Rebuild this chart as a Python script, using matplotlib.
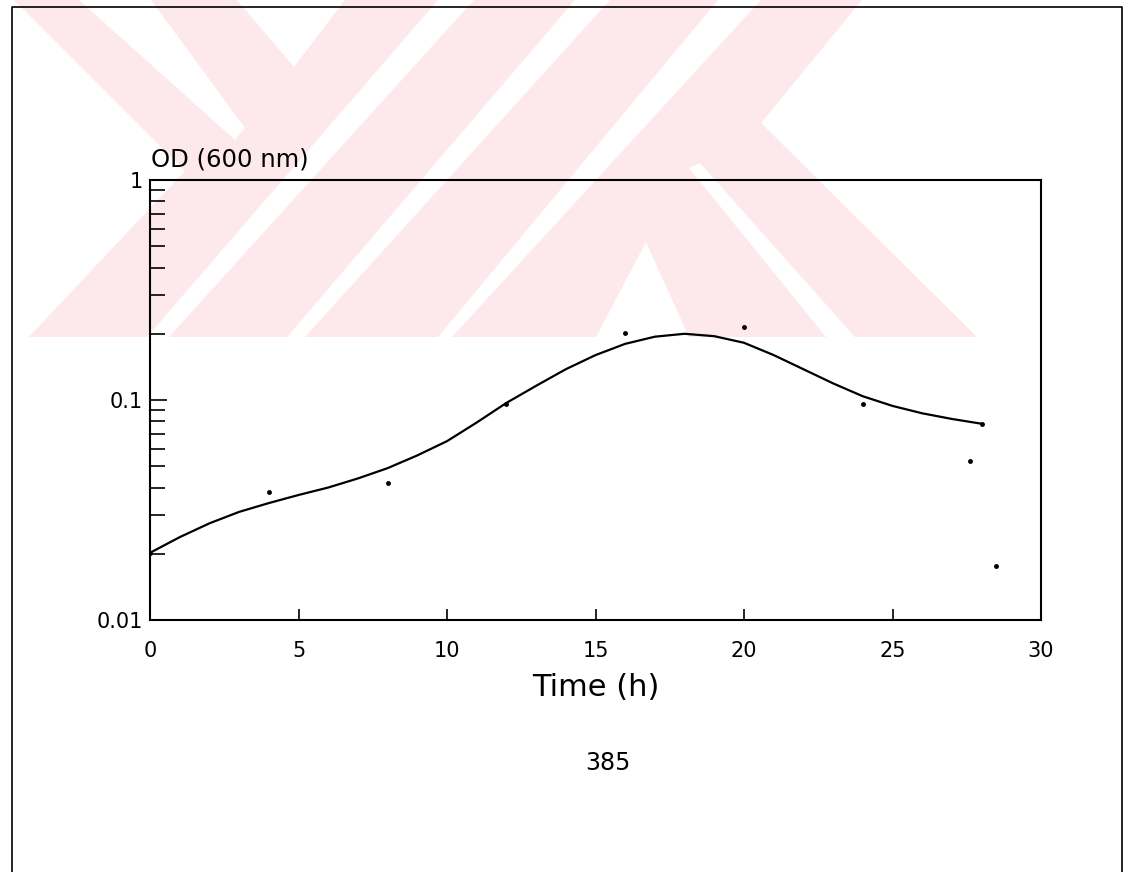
import numpy as np
import matplotlib
matplotlib.use('Agg')
import matplotlib.pyplot as plt
from matplotlib.patches import Polygon
from matplotlib.lines import Line2D
from matplotlib.ticker import FixedLocator, NullFormatter

# measured points (time in h, OD at 600 nm)
time_pts = [0, 4, 8, 12, 16, 20, 24, 28, 27.6, 28.5]
od_pts = [0.0202, 0.038, 0.042, 0.096, 0.202, 0.215, 0.096, 0.078, 0.053, 0.0176]

fit_time = list(range(29))
fit_od = [0.0202, 0.0238, 0.0275, 0.031, 0.034, 0.037, 0.040, 0.044, 0.049, 0.056,
          0.065, 0.079, 0.097, 0.116, 0.138, 0.160, 0.180, 0.194, 0.200, 0.195,
          0.182, 0.160, 0.138, 0.119, 0.104, 0.094, 0.087, 0.082, 0.078]

x_ticks = [0, 5, 10, 15, 20, 25, 30]
y_ticks = [0.01, 0.1, 1]
y_labels = ['0.01', '0.1', '1']

W, H = 1126, 872
fig = plt.figure(figsize=(W / 100, H / 100), dpi=100)
fig.patch.set_facecolor('white')


def px(x, y):
    return (x / W, 1 - y / H)


# background watermark (light pink stripes), drawn under everything
pink = '#fde8ec'
base = [(14, 0), (862, 0), (761, 123), (977, 337), (29, 337), (185, 171)]
fig.patches.append(Polygon([px(*p) for p in base], closed=True, transform=fig.transFigure,
                           facecolor=pink, edgecolor='none', zorder=-3))
cuts = [
    [(79, 0), (151, 0), (245, 128), (235, 140)],
    [(237, 0), (345, 0), (294, 67)],
    [(147, 337), (169, 337), (474, 0), (438, 0)],
    [(287, 337), (305, 337), (610, 0), (575, 0)],
    [(438, 337), (452, 337), (761, 0), (718, 0)],
    [(646, 242), (596, 337), (689, 337)],
    [(689, 168), (700, 163), (855, 337), (826, 337)],
]
for c in cuts:
    fig.patches.append(Polygon([px(*p) for p in c], closed=True, transform=fig.transFigure,
                               facecolor='white', edgecolor='none', zorder=-2))

# page frame
frame = [(12, 872), (12, 7), (1122, 7), (1122, 872)]
fx = [px(*p)[0] for p in frame]
fy = [px(*p)[1] for p in frame]
fig.lines.append(Line2D(fx, fy, transform=fig.transFigure, color='black', lw=1.2))

ax = fig.add_axes([150 / W, 1 - 620 / H, (1041 - 150) / W, (620 - 180) / H])
ax.set_facecolor('none')
ax.set_zorder(1)

ax.plot(fit_time, fit_od, color='black', lw=1.6)
ax.plot(time_pts, od_pts, 'o', color='black', ms=2.5)

ax.set_yscale('log')
ax.set_xlim(0, 30)
ax.set_ylim(0.01, 1)

ax.set_xticks(x_ticks)
ax.set_xticklabels([str(t) for t in x_ticks])
ax.yaxis.set_major_locator(FixedLocator(y_ticks))
ax.set_yticklabels(y_labels)
minor = [m * d for d in (0.01, 0.1) for m in range(2, 10)]
ax.yaxis.set_minor_locator(FixedLocator(minor))
ax.yaxis.set_minor_formatter(NullFormatter())

ax.tick_params(axis='both', which='both', direction='in', top=False, right=False,
               width=1.2, labelsize=15)
ax.tick_params(axis='y', which='major', length=12, pad=5)
ax.tick_params(axis='y', which='minor', length=11)
ax.tick_params(axis='x', which='major', length=8, pad=15)
for s in ax.spines.values():
    s.set_linewidth(1.5)

ax.set_xlabel('Time (h)', fontsize=22, labelpad=9)
fig.text(151 / W, 1 - 167 / H, 'OD (600 nm)', fontsize=17.5, ha='left', va='baseline')
fig.text(608 / W, 1 - 763 / H, '385', fontsize=17, ha='center', va='center')

fig.savefig('out.png', dpi=100)
